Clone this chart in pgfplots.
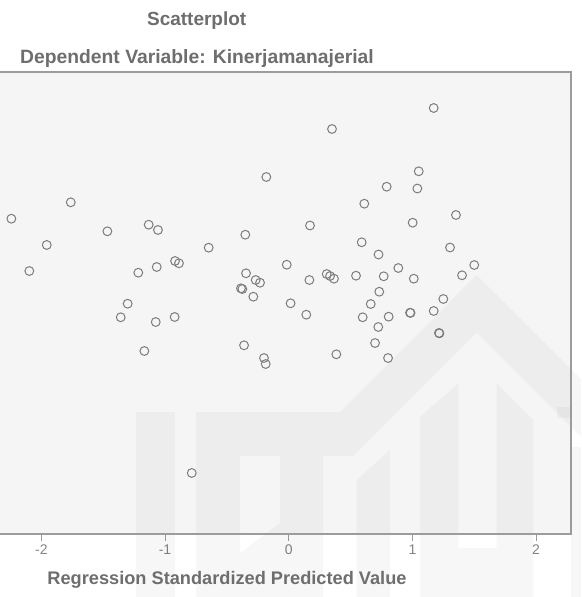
\documentclass[border=0pt]{standalone}
\usepackage{fontspec}
\setmainfont{Liberation Sans}
\usepackage{pgfplots}
\pgfplotsset{compat=1.18}
\definecolor{bgc}{HTML}{F5F5F5}
\definecolor{txt}{HTML}{6E6E6E}
\definecolor{frm}{HTML}{9C9C9C}
\definecolor{mk}{HTML}{7C7C7C}
\begin{document}
\begin{tikzpicture}[x=1pt,y=1pt]
\useasboundingbox (0,0) rectangle (581,597);
\fill[white] (0,0) rectangle (581,597);
\begin{axis}[
  at={(0pt,63pt)}, anchor=south west,
  width=571pt, height=462pt, scale only axis,
  xmin=-2.334, xmax=2.282, ymin=-3.9, ymax=3.8,
  axis line style={draw=none},
  axis background/.style={fill=bgc},
  xtick={-2,-1,0,1,2}, xticklabels={-2,-1,0,1,2},
  ytick=\empty,
  tick pos=bottom, tick align=outside,
  major tick length=7pt,
  tick style={draw=frm, line width=0.9pt},
  xticklabel style={font=\fontsize{14}{16}\selectfont, text=txt!85},
  /pgf/number format/assume math mode=true,
  clip=true,
]
\addplot[only marks, mark=o, mark size=4.4pt, mark options={draw=mk, line width=1pt}] coordinates {
(-2.342,2.150) (-2.242,1.355) (-2.097,0.483) (-1.956,0.917) (-1.762,1.628)
(-1.466,1.145) (-1.358,-0.288) (-1.302,-0.062) (-1.216,0.455) (-1.167,-0.850)
(-1.132,1.255) (-1.075,-0.367) (-1.067,0.550) (-1.057,1.167) (-0.922,-0.283)
(-0.919,0.650) (-0.887,0.612) (-0.784,-2.883) (-0.647,0.872) (-0.386,0.195)
(-0.375,0.183) (-0.361,-0.755) (-0.351,1.088) (-0.345,0.445) (-0.286,0.055)
(-0.267,0.333) (-0.232,0.288) (-0.200,-0.967) (-0.186,-1.067) (-0.181,2.050)
(-0.016,0.588) (0.015,-0.055) (0.142,-0.245) (0.167,0.333) (0.172,1.242)
(0.307,0.433) (0.334,0.400) (0.350,2.850) (0.366,0.355) (0.385,-0.905)
(0.544,0.405) (0.590,0.962) (0.598,-0.288) (0.611,1.605) (0.663,-0.067)
(0.698,-0.717) (0.726,0.758) (0.724,-0.450) (0.732,0.138) (0.768,0.395)
(0.792,1.888) (0.803,-0.967) (0.808,-0.278) (0.886,0.533) (0.981,-0.212)
(0.985,-0.215) (1.002,1.288) (1.011,0.355) (1.040,1.858) (1.051,2.145)
(1.172,3.200) (1.172,-0.183) (1.215,-0.550) (1.218,-0.555) (1.250,0.017)
(1.304,0.875) (1.352,1.417) (1.401,0.412) (1.500,0.583)
};
\end{axis}
% faint watermark (decoration)
\begin{scope}[fill=black, fill opacity=0.033]
\fill (136,0) rectangle (175,185);
\fill[even odd rule] (196,0) -- (196,185) -- (340,185) -- (476.7,322) -- (581,218) -- (581,160)
  -- (476.7,264.3) -- (353.4,141) -- (323,141) -- (323,0) -- cycle
  (240,141) -- (280,141) -- (280,74) -- (240,44) -- cycle;
\fill (356.7,0) -- (356.7,117) -- (390,147) -- (390,0) -- cycle;
\fill (420,0) -- (420,180.3) -- (458.3,213.7) -- (458.3,49) -- (496.7,49) -- (496.7,213.7)
  -- (533.3,177) -- (533.3,0) -- cycle;
\fill (571,0) rectangle (581,150);
\fill (557,179) rectangle (571,190);
\end{scope}
\draw[frm, line width=1.1pt] (0,63) -- (571,63) -- (571,525) -- (0,525);
\node[text=txt, font=\fontsize{19}{22}\selectfont\bfseries] at (196.7,576.3) {Scatterplot};
\node[text=txt, font=\fontsize{19.3}{22}\selectfont\bfseries] at (197,538.7) {Dependent Variable: Kinerjamanajerial};
\node[text=txt, font=\fontsize{18.2}{22}\selectfont\bfseries] at (227,17) {Regression Standardized Predicted Value};
\end{tikzpicture}
\end{document}
